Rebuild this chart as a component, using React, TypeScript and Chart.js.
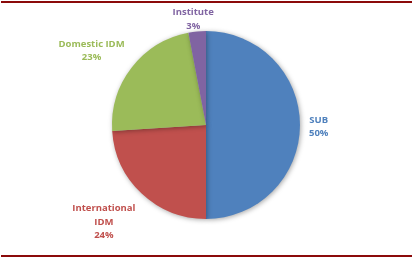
import React, { useEffect, useRef } from "react";
import { Chart, registerables } from "chart.js";

Chart.register(...registerables);

const categories = ["SUB", "International IDM", "Domestic IDM", "Institute"];
const labelLines = [["SUB", "50%"], ["International", "IDM", "24%"], ["Domestic IDM", "23%"], ["Institute", "3%"]];
const shares = [50, 24, 23, 3];
const colors = ["#4F81BD", "#C0504D", "#9BBB59", "#8064A2"];

const FONT = "bold 9.5px 'Open Sans', sans-serif";
const LINE_H = 13.3;

const shadowPlugin = {
  id: "pieShadow",
  beforeDatasetsDraw(chart: any) {
    const ctx = chart.ctx;
    ctx.save();
    ctx.shadowColor = "rgba(0,0,0,0.35)";
    ctx.shadowBlur = 5;
    ctx.shadowOffsetX = 1;
    ctx.shadowOffsetY = 1;
  },
  afterDatasetsDraw(chart: any) {
    chart.ctx.restore();
  },
};

const clamp = (v: number) => Math.max(-1, Math.min(1, v));

const labelPlugin = {
  id: "outLabels",
  afterDraw(chart: any) {
    const ctx = chart.ctx;
    const meta = chart.getDatasetMeta(0);
    ctx.save();
    ctx.font = FONT;
    ctx.textAlign = "center";
    ctx.textBaseline = "middle";
    meta.data.forEach((arc: any, i: number) => {
      const { x, y, startAngle, endAngle, outerRadius } = arc.getProps(
        ["x", "y", "startAngle", "endAngle", "outerRadius"],
        true
      );
      const mid = (startAngle + endAngle) / 2;
      const lines = labelLines[i];
      const w = Math.max(...lines.map((l) => ctx.measureText(l).width));
      const h = lines.length * LINE_H;
      const c = Math.cos(mid);
      const s = Math.sin(mid);
      const d = outerRadius + 9;
      const ax = x + d * c;
      const ay = y + d * s + 2;
      let cx = ax + (w / 2) * clamp(c * 1.6);
      let cy = ay + (h / 2) * clamp(s * 1.6);
      if (cy - h / 2 < 6) cy = 6 + h / 2;
      if (cy + h / 2 > chart.height - 12) cy = chart.height - 12 - h / 2;
      ctx.fillStyle = colors[i];
      lines.forEach((l, k) => {
        ctx.fillText(l, cx, cy - h / 2 + LINE_H / 2 + k * LINE_H);
      });
    });
    ctx.restore();
  },
};

export default function App() {
  const ref = useRef<HTMLCanvasElement>(null);
  useEffect(() => {
    const chart = new Chart(ref.current!, {
      type: "pie",
      data: {
        labels: categories,
        datasets: [
          {
            data: shares,
            backgroundColor: colors,
            borderWidth: 0,
          },
        ],
      },
      options: {
        animation: false,
        responsive: false,
        maintainAspectRatio: false,
        layout: { padding: { top: 31, bottom: 40, left: 0, right: 3 } },
        plugins: { legend: { display: false }, tooltip: { enabled: false } },
      },
      plugins: [shadowPlugin, labelPlugin],
    });
    return () => chart.destroy();
  }, []);
  return (
    <div style={{ position: "fixed", left: 0, top: 0, width: 415, height: 259, background: "#fff" }}>
      <canvas ref={ref} width={415} height={259} style={{ position: "absolute", left: 0, top: 0 }} />
      <div style={{ position: "absolute", left: 1, top: 1, width: 411, height: 1.5, background: "#8B0A0A" }} />
      <div style={{ position: "absolute", left: 1, top: 255, width: 411, height: 2, background: "#8B0A0A" }} />
    </div>
  );
}
